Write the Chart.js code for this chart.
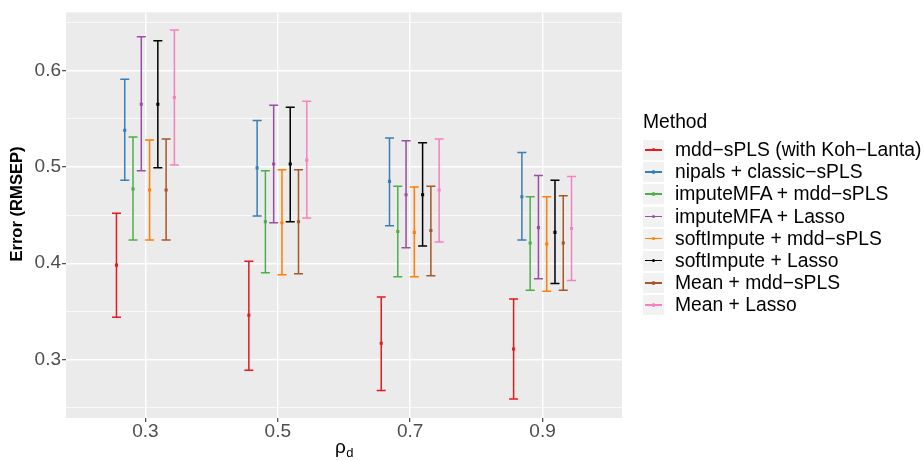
<!DOCTYPE html>
<html>
<head>
<meta charset="utf-8">
<script src="https://cdn.jsdelivr.net/npm/chart.js@4"></script>
<style>
  body { margin: 0; background: #fff; font-family: "Liberation Sans", Arial, sans-serif; }
  #wrap { position: relative; width: 924px; height: 461px; }
  #legend { position: absolute; left: 643px; top: 110px; color: #000; font-size: 19.3px; }
  #legend .ttl { height: 23px; line-height: 23px; margin-bottom: 7px; }
  #legend .row { display: flex; align-items: center; height: 20px; margin-bottom: 2.2px; }
  #legend .key { position: relative; width: 21px; height: 20px; background: #f2f2f2; margin-right: 11px; flex: none; }
  #legend .key .ln { position: absolute; left: 2px; top: 9px; width: 17px; height: 1.5px; }
  #legend .key .pt { position: absolute; left: 9px; top: 8px; width: 3.4px; height: 3.4px; border-radius: 50%; }
  #legend .lbl { line-height: 20px; white-space: nowrap; }
</style>
</head>
<body>
<div id="wrap">
  <canvas id="c" width="924" height="461"></canvas>
  <div id="legend"></div>
</div>
<script>
// categories (rho_d) and methods
const rhoLabels = ['0.3', '0.5', '0.7', '0.9'];
const methods = [
  'mdd\u2212sPLS (with Koh\u2212Lanta)',
  'nipals + classic\u2212sPLS',
  'imputeMFA + mdd\u2212sPLS',
  'imputeMFA + Lasso',
  'softImpute + mdd\u2212sPLS',
  'softImpute + Lasso',
  'Mean + mdd\u2212sPLS',
  'Mean + Lasso'
];
const colors = ['#E41A1C', '#377EB8', '#4DAF4A', '#984EA3', '#FF7F00', '#000000', '#A65628', '#F781BF'];

// mean RMSEP per method, one value per rho
const means = [
  [0.398, 0.346, 0.317, 0.311],
  [0.538, 0.499, 0.485, 0.469],
  [0.477, 0.443, 0.433, 0.421],
  [0.565, 0.503, 0.471, 0.437],
  [0.476, 0.442, 0.432, 0.420],
  [0.565, 0.503, 0.471, 0.432],
  [0.476, 0.443, 0.434, 0.421],
  [0.572, 0.507, 0.476, 0.436]
];
const lowers = [
  [0.344, 0.289, 0.268, 0.259],
  [0.486, 0.449, 0.439, 0.424],
  [0.424, 0.390, 0.386, 0.372],
  [0.496, 0.442, 0.416, 0.384],
  [0.424, 0.388, 0.386, 0.371],
  [0.499, 0.443, 0.418, 0.379],
  [0.424, 0.389, 0.387, 0.372],
  [0.502, 0.447, 0.422, 0.382]
];
const uppers = [
  [0.452, 0.402, 0.365, 0.363],
  [0.591, 0.548, 0.530, 0.515],
  [0.531, 0.496, 0.480, 0.469],
  [0.635, 0.564, 0.527, 0.491],
  [0.528, 0.497, 0.479, 0.469],
  [0.631, 0.562, 0.525, 0.486],
  [0.529, 0.497, 0.480, 0.470],
  [0.642, 0.568, 0.529, 0.490]
];

// y axis ticks
const yTicks = [0.3, 0.4, 0.5, 0.6];
const yMinor = [0.25, 0.35, 0.45, 0.55, 0.65];

const dodge = 0.0625;   // spacing between methods, in category units
const capHalf = 0.034;  // half width of the error bar caps

function xPos(g, i) {
  return g + 1 + (i - (methods.length - 1) / 2) * dodge;
}

// panel background
const panelBg = {
  id: 'panelBg',
  beforeDraw(chart) {
    const { ctx, chartArea: a } = chart;
    ctx.save();
    ctx.fillStyle = '#EBEBEB';
    ctx.fillRect(a.left, a.top, a.right - a.left, a.bottom - a.top);
    ctx.restore();
  }
};

// error bars, drawn under the points
const errorBars = {
  id: 'errorBars',
  beforeDatasetsDraw(chart) {
    const { ctx, scales: { x, y } } = chart;
    ctx.save();
    ctx.lineWidth = 1.5;
    methods.forEach((m, i) => {
      ctx.strokeStyle = colors[i];
      rhoLabels.forEach((r, g) => {
        const xc = xPos(g, i);
        const px = x.getPixelForValue(xc);
        const pl = x.getPixelForValue(xc - capHalf);
        const pr = x.getPixelForValue(xc + capHalf);
        const top = y.getPixelForValue(uppers[i][g]);
        const bot = y.getPixelForValue(lowers[i][g]);
        ctx.beginPath();
        ctx.moveTo(px, top); ctx.lineTo(px, bot);
        ctx.moveTo(pl, top); ctx.lineTo(pr, top);
        ctx.moveTo(pl, bot); ctx.lineTo(pr, bot);
        ctx.stroke();
      });
    });
    ctx.restore();
  }
};

// axis titles: y title and rho with subscript d
const axisTitles = {
  id: 'axisTitles',
  afterDraw(chart) {
    const { ctx, chartArea: a } = chart;
    const cx = (a.left + a.right) / 2;
    ctx.save();
    ctx.fillStyle = '#000';

    ctx.textBaseline = 'alphabetic';
    ctx.font = '19px "Liberation Sans", Arial, sans-serif';
    const w1 = ctx.measureText('\u03c1').width;
    ctx.font = '13px "Liberation Sans", Arial, sans-serif';
    const w2 = ctx.measureText('d').width;
    const x0 = cx - (w1 + w2) / 2;
    ctx.font = '19px "Liberation Sans", Arial, sans-serif';
    ctx.fillText('\u03c1', x0, 453);
    ctx.font = '13px "Liberation Sans", Arial, sans-serif';
    ctx.fillText('d', x0 + w1 + 0.5, 457);

    ctx.translate(17, 204);
    ctx.rotate(-Math.PI / 2);
    ctx.textAlign = 'center';
    ctx.textBaseline = 'middle';
    ctx.font = 'bold 16.6px "Liberation Sans", Arial, sans-serif';
    ctx.fillText('Error (RMSEP)', 0, 0);
    ctx.restore();
  }
};

const isMinor = (ctx) => ctx.tick && ctx.tick.minor;

new Chart(document.getElementById('c'), {
  type: 'scatter',
  data: {
    datasets: methods.map((m, i) => ({
      label: m,
      data: means[i].map((v, g) => ({ x: xPos(g, i), y: v })),
      backgroundColor: colors[i],
      borderColor: colors[i],
      borderWidth: 0,
      pointStyle: 'rect',
      pointRadius: 2.2,
      pointHoverRadius: 2.2
    }))
  },
  options: {
    responsive: false,
    animation: false,
    events: [],
    layout: { padding: { top: 11, right: 302, left: 0, bottom: 0 } },
    plugins: { legend: { display: false }, tooltip: { enabled: false } },
    scales: {
      x: {
        type: 'linear',
        min: 0.4,
        max: 4.6,
        afterBuildTicks: (s) => { s.ticks = rhoLabels.map((r, g) => ({ value: g + 1 })); },
        afterFit: (s) => { s.height = 43; },
        border: { display: false },
        grid: { color: '#FFFFFF', lineWidth: 1.4, tickColor: '#333333', tickLength: 4, tickWidth: 1.1 },
        ticks: {
          autoSkip: false,
          maxRotation: 0,
          padding: -2,
          color: '#4D4D4D',
          font: { family: '"Liberation Sans", Arial, sans-serif', size: 19 },
          callback: (v, idx) => rhoLabels[idx]
        }
      },
      y: {
        min: 0.2394,
        max: 0.6603,
        afterBuildTicks: (s) => {
          s.ticks = yMinor.map(v => ({ value: v, minor: true }))
            .concat(yTicks.map(v => ({ value: v })))
            .sort((a, b) => a.value - b.value);
        },
        afterFit: (s) => { s.width = 66; },
        border: { display: false },
        grid: {
          color: '#FFFFFF',
          lineWidth: (c) => isMinor(c) ? 0.7 : 1.4,
          tickColor: (c) => isMinor(c) ? 'rgba(0,0,0,0)' : '#333333',
          tickLength: 4,
          tickWidth: 1.1
        },
        ticks: {
          padding: 1,
          color: '#4D4D4D',
          font: { family: '"Liberation Sans", Arial, sans-serif', size: 19 },
          callback: (v, idx, ticks) => ticks[idx].minor ? '' : v.toFixed(1)
        }
      }
    }
  },
  plugins: [panelBg, errorBars, axisTitles]
});

// legend in ggplot style
const legend = document.getElementById('legend');
let html = '<div class="ttl">Method</div>';
methods.forEach((m, i) => {
  html += '<div class="row"><div class="key"><div class="ln" style="background:' + colors[i] +
    '"></div><div class="pt" style="background:' + colors[i] + '"></div></div><div class="lbl">' + m + '</div></div>';
});
legend.innerHTML = html;
</script>
</body>
</html>
